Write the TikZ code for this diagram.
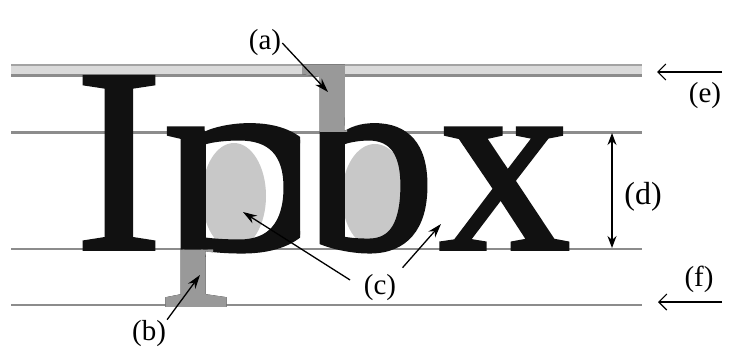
\documentclass[tikz,border=0pt]{standalone}
\usepackage{fontspec}
\setmainfont{Liberation Serif}
\newfontfamily\bigserif[FakeBold=1.5]{Liberation Serif}
\usetikzlibrary{arrows.meta}
\definecolor{guide}{HTML}{8C8C8C}
\definecolor{band}{HTML}{DADADA}
\definecolor{glyph}{HTML}{111111}
\definecolor{partgray}{HTML}{999999}
\definecolor{countergray}{HTML}{C8C8C8}
\tikzset{
  guideline/.style={draw=guide, line width=2.5pt},
  letter/.style={anchor=base west, inner sep=0pt, outer sep=0pt, text=glyph,
    font=\bigserif\fontsize{263}{263}\selectfont},
  lbl/.style={inner sep=1pt, font=\fontsize{29}{29}\selectfont},
  arr/.style={draw=black, line width=1.3pt, -{Stealth[length=14pt,width=9pt]}},
  openarr/.style={draw=black, line width=1.1pt, -{Straight Barb[length=8pt,width=16pt]}},
  dblarr/.style={draw=black, line width=1.3pt, {Stealth[length=12pt,width=9pt]}-{Stealth[length=12pt,width=9pt]}}
}
\begin{document}
\begin{tikzpicture}[x=1pt,y=-1pt]
\useasboundingbox (0,0) rectangle (734,349);
\fill[white] (0,0) rectangle (734,349);
% guide lines
\fill[band] (11,64) rectangle (642,77);
\draw[draw=guide!80, line width=2pt] (11,65) -- (642,65);
\draw[draw=guide, line width=3pt] (11,75) -- (642,75);
\draw[guideline] (11,132.5) -- (642,132.5);
\draw[guideline] (11,249) -- (642,249);
\draw[guideline] (11,305) -- (642,305);
% counters
\fill[countergray] (234,196) ellipse [x radius=32, y radius=53];
\fill[countergray] (375,196) ellipse [x radius=33, y radius=52];
% I
\node[letter] (I) at (75,249) {I};
% p : stem part
\begin{scope}
  \clip (140,0) rectangle (205,349) (205,256) rectangle (300,349);
  \node[letter] (p) at (163,249) {p};
\end{scope}
% p : bowl part, widened
\begin{scope}
  \clip (205,0) rectangle (300,256);
  \begin{scope}[shift={(205,0)}, xscale=1.45, shift={(-205,0)}]
    \node[letter, transform shape] (pbowl) at (163,249) {p};
  \end{scope}
\end{scope}
% p : descender in gray
\begin{scope}
  \clip (140,249.5) rectangle (213,349) (213,256) rectangle (300,349);
  \node[letter, text=partgray] (pgray) at (163,249) {p};
\end{scope}
% b
\node[letter] (b) at (304,249) {b};
\begin{scope}
  \clip (280,0) rectangle (347,131.5);
  \node[letter, text=partgray] (bgray) at (304,249) {b};
\end{scope}
% x
\node[letter] (x) at (439,249) {x};
% labels
\node[lbl] (a) at (265,43) {(a)};
\node[lbl] (bl) at (149,334) {(b)};
\node[lbl] (c) at (380,288) {(c)};
\node[lbl, font=\fontsize{32}{32}\selectfont] (d) at (643,197) {(d)};
\node[lbl] (e) at (705,96) {(e)};
\node[lbl] (f) at (699,279) {(f)};
% arrow points
\coordinate (atip) at (328,92);
\coordinate (btip) at (200,275);
\coordinate (ctip1) at (243,212);
\coordinate (ctip2) at (441,224);
\coordinate (dtop) at (612,133);
\coordinate (dbot) at (612,248);
\coordinate (estart) at (722,72);
\coordinate (etip) at (657,72);
\coordinate (fstart) at (722,302);
\coordinate (ftip) at (658,302);
% arrows
\draw[arr] (a.east) -- (atip);
\draw[arr] (bl.north east) -- (btip);
\draw[arr, shorten <=15pt] (c.west) -- (ctip1);
\draw[arr, shorten <=8pt] (c.north east) -- (ctip2);
\draw[dblarr] (dtop) -- (dbot);
\draw[openarr] (estart) -- (etip);
\draw[openarr] (fstart) -- (ftip);
\end{tikzpicture}
\end{document}
